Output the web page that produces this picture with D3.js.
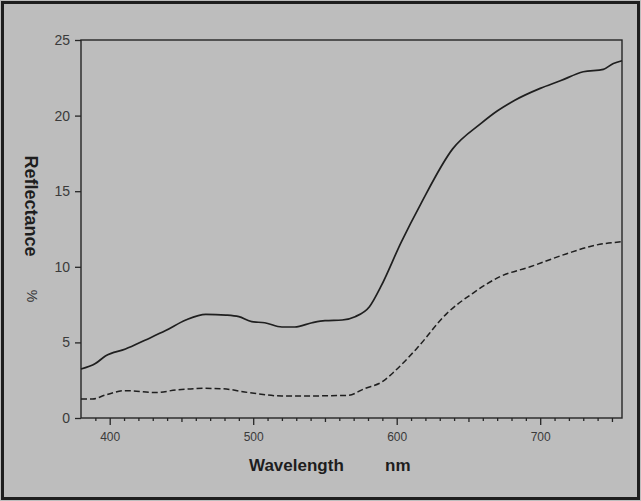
<!DOCTYPE html>
<html>
<head>
<meta charset="utf-8">
<script src="https://cdn.jsdelivr.net/npm/d3@7"></script>
<style>
  html, body { margin: 0; padding: 0; background: #bdbdbd; }
  svg { display: block; }
  text { font-family: 'Liberation Sans', Arial, sans-serif; }
</style>
</head>
<body>
<div id="chart"></div>
<script>
// upper curve (solid) – wavelength nm / reflectance %
const solidNm = [380, 390, 397, 411, 425, 439, 453, 467, 481, 490, 499, 508, 520, 529, 541, 550, 562, 571, 581, 589, 603, 617, 639, 659, 670, 682, 700, 714, 730, 744, 751, 757]
const solidVal = [3.24, 3.6, 4.1, 4.56, 5.16, 5.78, 6.48, 6.86, 6.81, 6.7, 6.37, 6.3, 6.02, 6.02, 6.3, 6.44, 6.48, 6.7, 7.36, 8.7, 11.6, 14.2, 17.8, 19.5, 20.3, 21.0, 21.8, 22.3, 22.9, 23.06, 23.45, 23.63]

// lower curve (dashed)
const dashNm = [380, 388, 397, 411, 432, 446, 466, 478, 497, 520, 539, 566, 578, 590, 599, 614, 635, 653, 672, 693, 718, 739, 757]
const dashVal = [1.26, 1.26, 1.52, 1.81, 1.68, 1.85, 1.96, 1.94, 1.68, 1.46, 1.46, 1.5, 1.96, 2.4, 3.13, 4.6, 6.92, 8.25, 9.35, 10.0, 10.85, 11.44, 11.66]

const yTicks = [0, 5, 10, 15, 20, 25]
const xMajor = [400, 500, 600, 700]
const xMid = [450, 550, 650, 750]
const xMinor = d3.range(390, 757, 10).filter(v => v % 50 !== 0)

const W = 641, H = 501
const m = { left: 81, right: 19, top: 40, bottom: 83 }

const svg = d3.select('#chart').append('svg')
  .attr('width', W).attr('height', H)

svg.append('rect')
  .attr('x', 2.5).attr('y', 2.5).attr('width', W - 5).attr('height', H - 5)
  .attr('fill', '#bdbdbd').attr('stroke', '#1e1e1e').attr('stroke-width', 3)

const x = d3.scaleLinear().domain([380, 757]).range([m.left, W - m.right])
const y = d3.scaleLinear().domain([0, 25]).range([H - m.bottom, m.top])

const ink = '#262626'

// x axis ticks
const xAxisG = svg.append('g').attr('transform', `translate(0,${y(0)})`)
xAxisG.append('g').call(d3.axisBottom(x).tickValues(xMinor).tickSize(3).tickFormat(''))
xAxisG.append('g').call(d3.axisBottom(x).tickValues(xMid).tickSize(4).tickFormat(''))
xAxisG.append('g').call(d3.axisBottom(x).tickValues(xMajor).tickSize(7).tickPadding(7).tickFormat(d3.format('d')))
xAxisG.selectAll('.domain').remove()
xAxisG.selectAll('line').attr('stroke', ink).attr('stroke-width', 1.3)
xAxisG.selectAll('text').attr('fill', '#3a3a3a').attr('font-size', 12)

// y axis ticks
const yAxisG = svg.append('g').attr('transform', `translate(${m.left},0)`)
  .call(d3.axisLeft(y).tickValues(yTicks).tickSize(6).tickPadding(5))
yAxisG.select('.domain').remove()
yAxisG.selectAll('line').attr('stroke', ink).attr('stroke-width', 1.3)
yAxisG.selectAll('text').attr('fill', '#3a3a3a').attr('font-size', 14)

// frame
svg.append('rect')
  .attr('x', x(380)).attr('y', y(25))
  .attr('width', x(757) - x(380)).attr('height', y(0) - y(25))
  .attr('fill', 'none').attr('stroke', ink).attr('stroke-width', 1.4)

const line = d3.line()
  .x(d => x(d[0]))
  .y(d => y(d[1]))
  .curve(d3.curveMonotoneX)

svg.append('path')
  .datum(d3.zip(solidNm, solidVal))
  .attr('d', line)
  .attr('fill', 'none').attr('stroke', '#1f1f1f').attr('stroke-width', 1.7)

svg.append('path')
  .datum(d3.zip(dashNm, dashVal))
  .attr('d', line)
  .attr('fill', 'none').attr('stroke', '#1f1f1f').attr('stroke-width', 1.5)
  .attr('stroke-dasharray', '6,3')

// labels
svg.append('text')
  .attr('transform', 'translate(25,206) rotate(90)')
  .attr('text-anchor', 'middle')
  .attr('font-size', 18).attr('font-weight', 'bold').attr('fill', '#1e1e1e')
  .text('Reflectance')

svg.append('text')
  .attr('transform', 'translate(27,296) rotate(90)')
  .attr('text-anchor', 'middle')
  .attr('font-size', 14).attr('fill', '#333')
  .text('%')

svg.append('text')
  .attr('x', 249).attr('y', 471)
  .attr('font-size', 17).attr('font-weight', 'bold').attr('fill', '#1e1e1e')
  .text('Wavelength')

svg.append('text')
  .attr('x', 385).attr('y', 471)
  .attr('font-size', 17).attr('font-weight', 'bold').attr('fill', '#1e1e1e')
  .text('nm')
</script>
</body>
</html>
